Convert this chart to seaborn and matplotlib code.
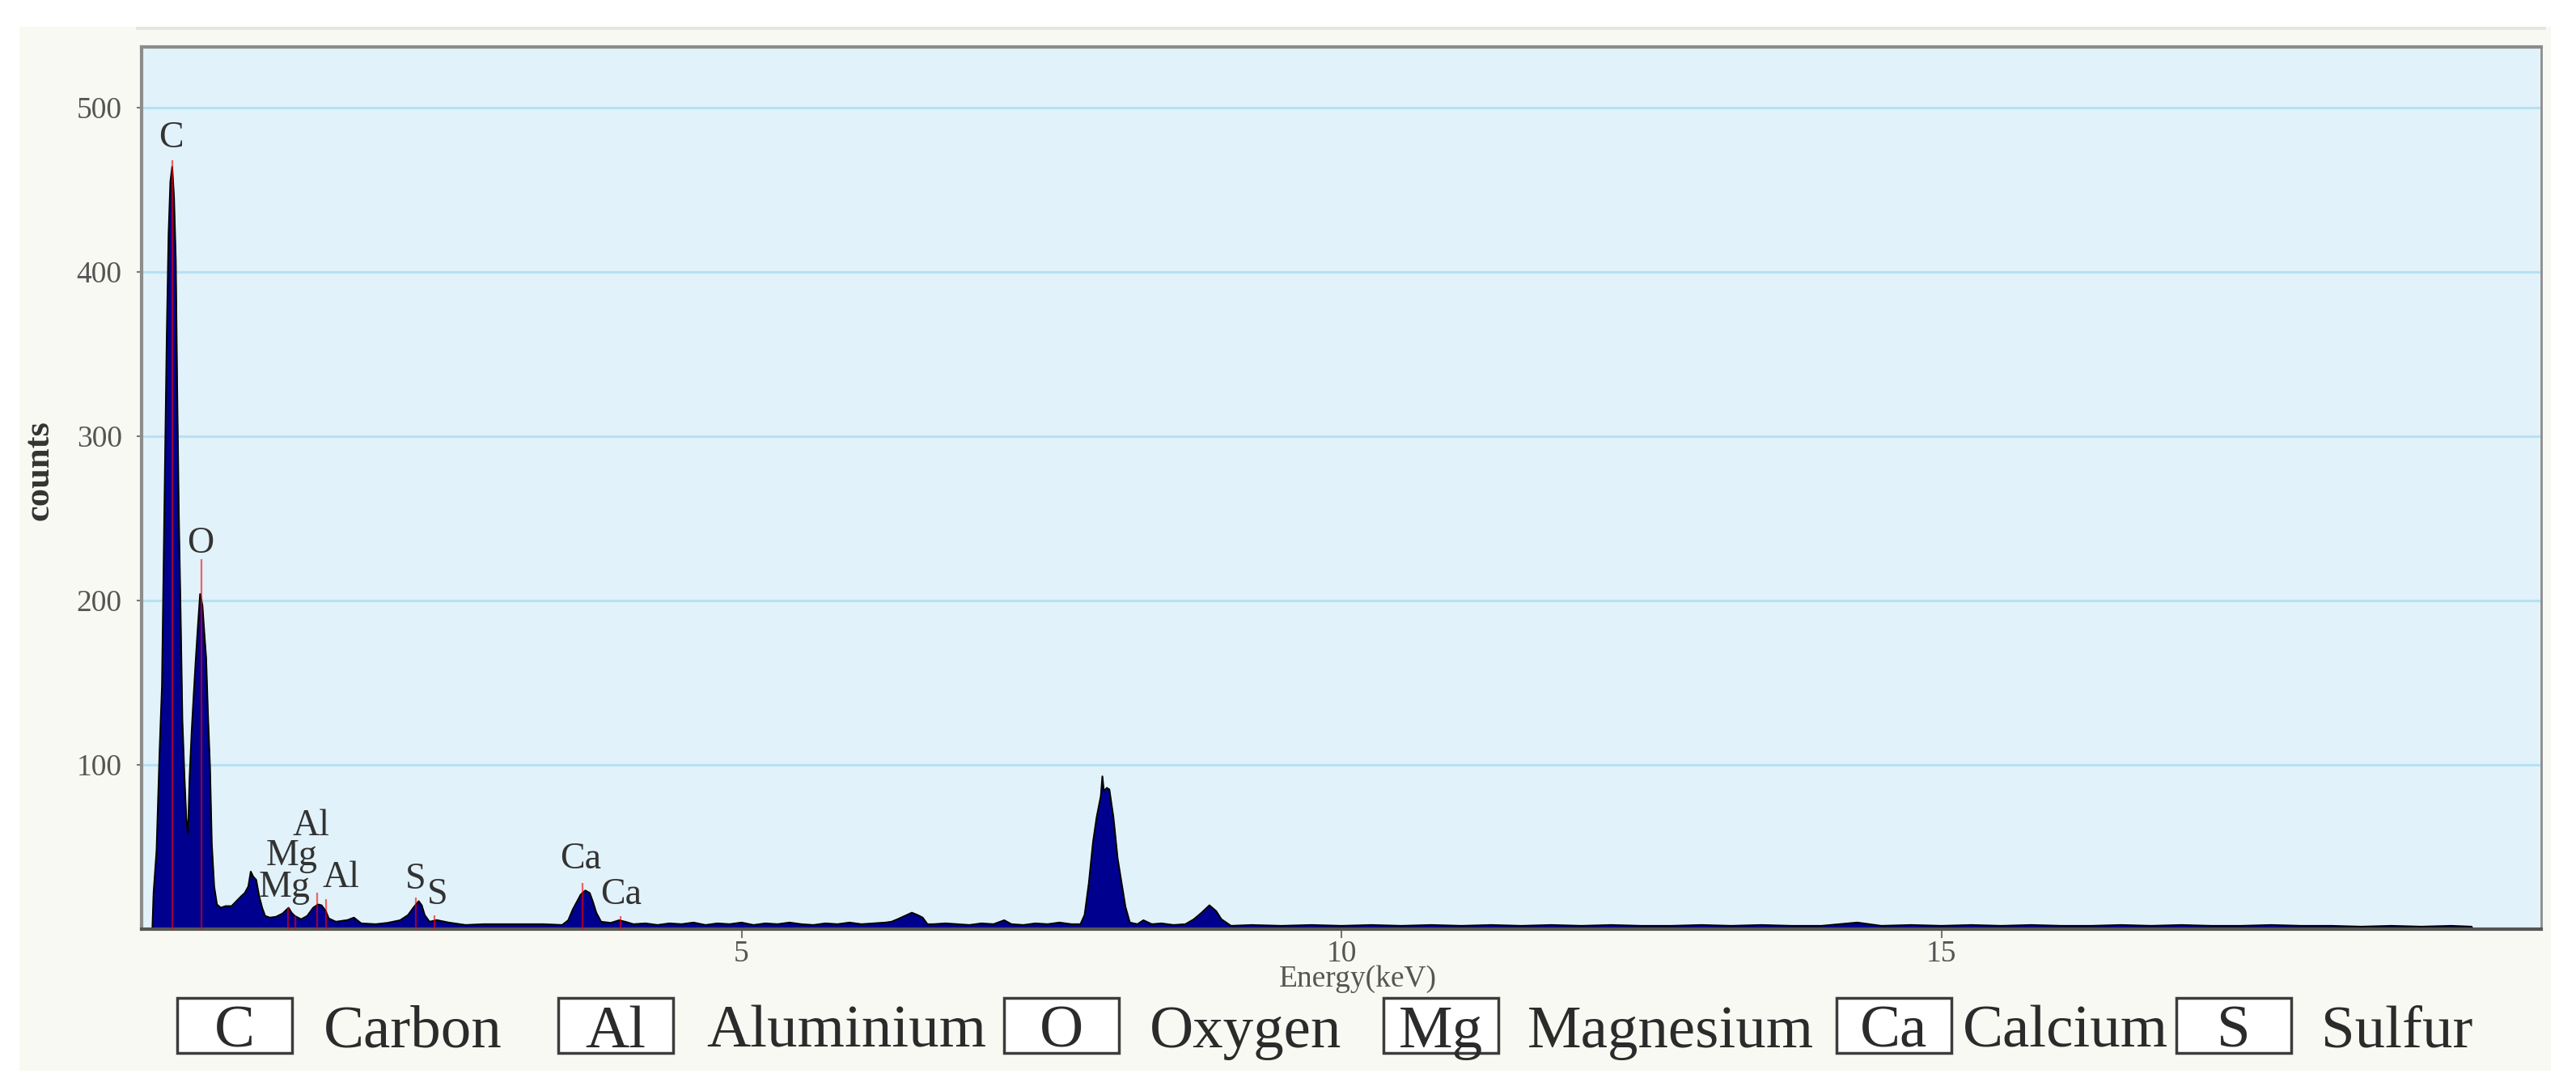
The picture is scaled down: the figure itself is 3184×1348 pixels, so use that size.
import matplotlib
matplotlib.use("Agg")
import matplotlib.pyplot as plt
from matplotlib.patches import Rectangle
import seaborn as sns

# EDS spectrum: energy (keV) and counts
energy_kev = [
    0.09, 0.10, 0.125, 0.15, 0.17, 0.185, 0.197, 0.21, 0.225, 0.24, 0.255, 0.27,
    0.285, 0.297, 0.31, 0.325, 0.34, 0.357, 0.373, 0.387, 0.40, 0.418, 0.434,
    0.45, 0.47, 0.488, 0.507, 0.524, 0.538, 0.553, 0.57, 0.585, 0.605, 0.628,
    0.66, 0.70, 0.75, 0.79, 0.83, 0.86, 0.89, 0.91, 0.93, 0.955, 0.98, 1.005,
    1.03, 1.07, 1.12, 1.175, 1.225, 1.25, 1.277, 1.33, 1.38, 1.43, 1.47, 1.50,
    1.535, 1.56, 1.62, 1.716, 1.77, 1.83, 1.95, 2.05, 2.155, 2.22, 2.27, 2.31,
    2.335, 2.36, 2.40, 2.46, 2.56, 2.70, 2.85, 3.10, 3.35, 3.505, 3.556, 3.594,
    3.634, 3.66, 3.698, 3.735, 3.76, 3.79, 3.83, 3.91, 3.98, 4.03, 4.10,
    4.2, 4.3, 4.4, 4.5, 4.6, 4.7, 4.8, 4.9, 5.0, 5.1, 5.2, 5.3, 5.4, 5.5, 5.6,
    5.7, 5.8, 5.9, 6.0, 6.1, 6.2, 6.25, 6.30, 6.36, 6.42, 6.47, 6.51, 6.55,
    6.6, 6.7, 6.8, 6.9, 7.0, 7.1, 7.19, 7.25, 7.35, 7.45, 7.55, 7.65, 7.75,
    7.825, 7.86, 7.895, 7.93, 7.96, 7.995, 8.008, 8.02, 8.045, 8.066, 8.10,
    8.135, 8.17, 8.20, 8.237, 8.30, 8.35, 8.42, 8.5, 8.6, 8.7, 8.77, 8.835,
    8.90, 8.956, 9.0, 9.08, 9.25, 9.5, 9.75, 10.0, 10.25, 10.5, 10.75, 11.0,
    11.25, 11.5, 11.75, 12.0, 12.25, 12.5, 12.75, 13.0, 13.25, 13.5, 13.75,
    14.0, 14.3, 14.5, 14.75, 15.0, 15.25, 15.5, 15.75, 16.0, 16.25, 16.5,
    16.75, 17.0, 17.25, 17.5, 17.75, 18.0, 18.25, 18.5, 18.75, 19.0, 19.25,
    19.42, 19.43,
]
counts = [
    0, 22, 48, 108, 148, 226, 292, 361, 423, 455, 464, 446,
    407, 327, 253, 193, 127, 93, 67, 58, 92, 121, 142,
    162, 185, 204, 197, 179, 165, 131, 99, 52, 26, 15,
    13, 14, 14, 17, 20, 22, 26, 35, 32, 30, 20, 13,
    8, 7, 7.5, 9.5, 13, 10, 8, 6, 8, 13, 15, 14.5,
    11, 6.5, 4.5, 5.5, 7, 3.5, 3, 3.8, 5.4, 8.5, 13.5, 17,
    14.5, 8.5, 4.5, 5.5, 4, 2.5, 3, 3, 3, 2.5, 5.4, 12,
    17.5, 21, 23.5, 22, 17, 10, 4.5, 3.8, 5.4, 4.5, 3,
    3.5, 2.5, 3.5, 3, 4, 2.5, 3.5, 3, 4, 2.5, 3.5, 3, 4, 3, 2.5,
    3.5, 3, 4, 3, 3.5, 4, 4.5, 6, 8, 10, 8.5, 7, 3,
    3, 3.5, 3, 2.5, 3.5, 3, 5.4, 3, 2.5, 3.5, 3, 4, 3,
    3, 8.7, 28, 53, 68, 81, 93, 84, 86, 85, 68,
    43, 27, 13.6, 4, 3, 5.4, 3, 3.5, 2.5, 3, 6, 10,
    14.5, 11, 6, 2, 2.5, 2, 2.5, 2, 2.5, 2, 2.5, 2,
    2.5, 2, 2.5, 2, 2.5, 2, 2, 2.5, 2, 2.5, 2,
    2, 4, 2, 2.5, 2, 2.5, 2, 2.5, 2, 2, 2.5,
    2, 2.5, 2, 2, 2.5, 2, 2, 1.5, 2, 1.5, 2,
    1.5, 0,
]

# characteristic line markers (red)
line_energy = [0.258, 0.50, 1.22, 1.28, 1.465, 1.54, 2.288, 2.44, 3.672, 3.995]
line_top = [468, 225, 13.5, 8, 22, 18, 19, 8.5, 28, 8]

# peak labels
label_text = ["C", "O", "Mg", "Al", "Mg", "Al", "S", "S", "Ca", "Ca"]
label_x = [0.243, 0.49, 1.252, 1.413, 1.188, 1.662, 2.281, 2.463, 3.656, 3.994]
label_y = [476, 229, 39, 57, 19.5, 25.6, 24.8, 15.4, 36.8, 15.4]

y_ticks = [100, 200, 300, 400, 500]
x_ticks = [5, 10, 15]

legend_symbols = ["C", "Al", "O", "Mg", "Ca", "S"]
legend_names = ["Carbon", "Aluminium", "Oxygen", "Magnesium", "Calcium", "Sulfur"]

# layout (pixels of the 3184x1348 canvas)
W, H = 3184, 1348
legend_box_x = [219, 690, 1241, 1710, 2270, 2690]
legend_name_x = [400, 873, 1421, 1888, 2426, 2869]

sns.set_style("white")
plt.rcParams["font.family"] = ["Liberation Serif", "DejaVu Serif"]

fig = plt.figure(figsize=(W / 100, H / 100), dpi=100, facecolor="white")

# cream panel behind everything
fig.patches.append(Rectangle((24 / W, 1 - 1323 / H), (3153 - 24) / W, (1323 - 33) / H,
                             transform=fig.transFigure, facecolor="#f9f9f3",
                             edgecolor="none", zorder=-10))
fig.patches.append(Rectangle((168 / W, 1 - 37 / H), (3147 - 168) / W, 4 / H,
                             transform=fig.transFigure, facecolor="#e6e6e2",
                             edgecolor="none", zorder=-9))

ax = fig.add_axes([175 / W, 1 - 1148 / H, (3141 - 175) / W, (1148 - 58) / H])
ax.set_facecolor("#e1f2fa")

# spectrum
ax.fill_between(energy_kev, counts, color="#00008f", lw=0, zorder=2)
sns.lineplot(x=energy_kev, y=counts, ax=ax, color="black", lw=1.5,
             sort=False, estimator=None, zorder=2.5)

# red element lines
ax.vlines(line_energy, 0, line_top, colors="#ff0000", alpha=0.6, lw=1.6, zorder=3)

for t, x, y in zip(label_text, label_x, label_y):
    ax.text(x, y, t, ha="center", va="baseline", fontsize=33, color="#333333", zorder=4)

ax.set_xlim(0, 20)
ax.set_ylim(0, 537)
ax.set_xticks(x_ticks)
ax.set_yticks(y_ticks)
ax.set_axisbelow(True)
ax.yaxis.grid(True, color="#b6e1f4", lw=2.2)
ax.xaxis.grid(False)

ax.tick_params(axis="y", length=4.5, width=1.5, color="#777777", labelsize=27,
               labelcolor="#555555", pad=13, left=True)
ax.tick_params(axis="x", length=8, width=1.5, color="#777777", labelsize=27,
               labelcolor="#555555", pad=1.5, bottom=True)

ax.set_xlabel("Energy(keV)", fontsize=27, color="#555555")
ax.xaxis.set_label_coords(0.507, -0.041)
ax.xaxis.label.set_va("top")
ax.set_ylabel("counts", fontsize=32, fontweight="bold", color="#333333")
ax.yaxis.set_label_coords(-0.036, 0.52)

for side in ["left", "top"]:
    ax.spines[side].set_color("#8c8c8c")
    ax.spines[side].set_linewidth(3)
ax.spines["right"].set_color("#8c8c8c")
ax.spines["right"].set_linewidth(2)
ax.spines["bottom"].set_color("#555555")
ax.spines["bottom"].set_linewidth(3)

# element legend row
box_w, box_h = 142, 68
baseline = 1 - 1294 / H
for sym, name, bx, nx in zip(legend_symbols, legend_names, legend_box_x, legend_name_x):
    fig.patches.append(Rectangle((bx / W, 1 - 1301 / H), box_w / W, box_h / H,
                                 transform=fig.transFigure, facecolor="white",
                                 edgecolor="#3c3c3c", lw=2.5, zorder=1))
    fig.text((bx + box_w / 2) / W, baseline, sym, ha="center", va="baseline",
             fontsize=54, color="#2b2b2b")
    fig.text(nx / W, baseline, name, ha="left", va="baseline",
             fontsize=54, color="#2b2b2b")

fig.savefig("out.png", dpi=100)
